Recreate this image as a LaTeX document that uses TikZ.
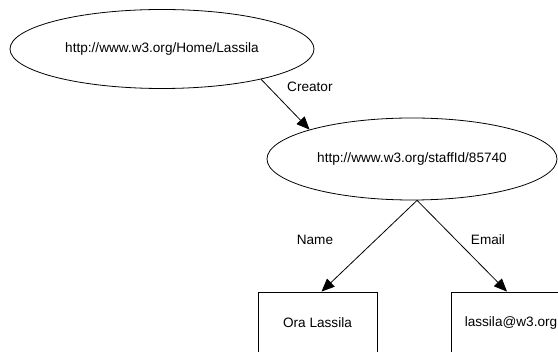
\documentclass[tikz,border=0pt]{standalone}
\usepackage{fontspec}
\setmainfont{Liberation Sans}
\usetikzlibrary{shapes.geometric,arrows.meta}
\begin{document}
\begin{tikzpicture}[x=1pt,y=-1pt,
  every node/.style={font=\fontsize{13.6}{16}\selectfont},
  res/.style={draw,ellipse,inner sep=0pt,line width=0.8pt},
  lit/.style={draw,rectangle,inner sep=0pt,line width=0.8pt},
  arc/.style={draw,line width=0.8pt,-{Triangle[length=13pt,width=11pt]}},
  lbl/.style={inner sep=0pt}]
\clip (0,0) rectangle (558,352);
\fill[white] (0,0) rectangle (558,352);
\node[res,minimum width=304pt,minimum height=79pt] (e1) at (162,49) {http://www.w3.org/Home/Lassila};
\node[res,minimum width=290pt,minimum height=82pt] (e2) at (412,159) {http://www.w3.org/staffId/85740};
\node[lit,minimum width=119pt,minimum height=62pt] (b1) at (317.5,323) {Ora Lassila};
\node[lit,minimum width=120pt,minimum height=62pt] (b2) at (511,323) {lassila@w3.org};
\draw[arc] (e1.-17.5) -- (e2.164.4);
\draw[arc] (e2.-83) -- ([xshift=4pt]b1.north);
\draw[arc] (e2.-83) -- ([xshift=-4pt]b2.north);
\node[lbl,anchor=west] (lc) at (287,87) {Creator};
\node[lbl] (ln) at (315,240) {Name};
\node[lbl] (le) at (488,240) {Email};
\end{tikzpicture}
\end{document}
